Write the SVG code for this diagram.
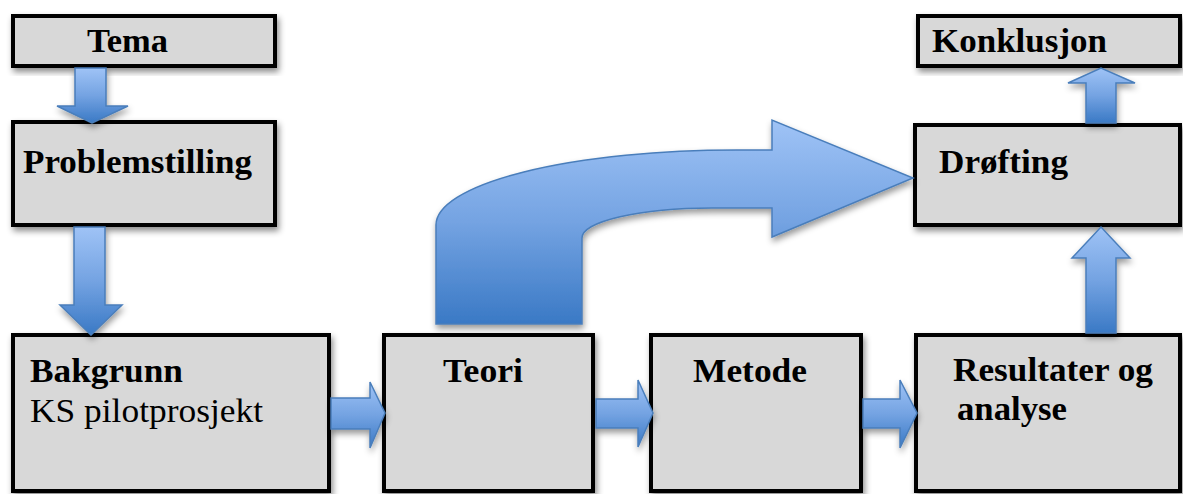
<svg xmlns="http://www.w3.org/2000/svg" width="1183" height="494" viewBox="0 0 1183 494">
  <defs>
    <style>
      .box { fill: #d8d8d8; stroke: #000; stroke-width: 4; filter: url(#boxShadow); }
      .lbl { font-family: "Liberation Serif", "DejaVu Serif", serif; font-size: 34px; fill: #000; }
      .b { font-weight: bold; }
      .r { font-weight: normal; }
      .arrow { fill: url(#blueGrad); stroke: #4a7ebb; stroke-width: 1.5; stroke-linejoin: miter; filter: url(#arrowShadow); }
    </style>
    <linearGradient id="blueGrad" x1="0" y1="0" x2="0" y2="1">
      <stop offset="0" stop-color="#9fc3f6"/>
      <stop offset="0.5" stop-color="#74a3e2"/>
      <stop offset="1" stop-color="#3a79c5"/>
    </linearGradient>
    <filter id="boxShadow" x="-10%" y="-10%" width="125%" height="130%">
      <feDropShadow dx="2" dy="4" stdDeviation="3" flood-color="#000" flood-opacity="0.45"/>
    </filter>
    <filter id="arrowShadow" x="-20%" y="-20%" width="140%" height="140%">
      <feDropShadow dx="1" dy="4" stdDeviation="3" flood-color="#000" flood-opacity="0.4"/>
    </filter>
  </defs>

  <rect width="1183" height="494" fill="#fff"/>

  <!-- process steps -->
  <g id="node-tema">
    <rect class="box" x="13" y="16" width="262" height="50"/>
    <text class="lbl b" x="87" y="52" textLength="81" lengthAdjust="spacingAndGlyphs">Tema</text>
  </g>
  <g id="node-problemstilling">
    <rect class="box" x="13" y="122" width="262" height="103"/>
    <text class="lbl b" x="23" y="173" textLength="229" lengthAdjust="spacingAndGlyphs">Problemstilling</text>
  </g>
  <g id="node-bakgrunn">
    <rect class="box" x="13" y="335" width="316" height="156"/>
    <text class="lbl b" x="30" y="382" textLength="153" lengthAdjust="spacingAndGlyphs">Bakgrunn</text>
    <text class="lbl r" x="30" y="422" textLength="233" lengthAdjust="spacingAndGlyphs">KS pilotprosjekt</text>
  </g>
  <g id="node-teori">
    <rect class="box" x="384" y="335" width="209" height="156"/>
    <text class="lbl b" x="443" y="382" textLength="80" lengthAdjust="spacingAndGlyphs">Teori</text>
  </g>
  <g id="node-metode">
    <rect class="box" x="651" y="335" width="210" height="156"/>
    <text class="lbl b" x="693" y="382" textLength="114" lengthAdjust="spacingAndGlyphs">Metode</text>
  </g>
  <g id="node-resultater">
    <rect class="box" x="916" y="335" width="264" height="156"/>
    <text class="lbl b" x="953" y="381" textLength="200" lengthAdjust="spacingAndGlyphs">Resultater og</text>
    <text class="lbl b" x="957" y="420" textLength="110" lengthAdjust="spacingAndGlyphs">analyse</text>
  </g>
  <g id="node-drofting">
    <rect class="box" x="915" y="125" width="265" height="100"/>
    <text class="lbl b" x="939" y="173" textLength="129" lengthAdjust="spacingAndGlyphs">Drøfting</text>
  </g>
  <g id="node-konklusjon">
    <rect class="box" x="918" y="16" width="262" height="50"/>
    <text class="lbl b" x="932" y="52" textLength="175" lengthAdjust="spacingAndGlyphs">Konklusjon</text>
  </g>

  <!-- block arrows between the steps -->
  <g id="connectors">
    <!-- Tema to Problemstilling -->
    <path class="arrow" d="M75,68 H106 V106 H128 L92,123 L57,106 H75 Z"/>
    <!-- Problemstilling to Bakgrunn -->
    <path class="arrow" d="M74,227 H105 V305 H122 L91,335 L60,305 H74 Z"/>
    <!-- Bakgrunn to Teori -->
    <path class="arrow" d="M331,398 H370 V382 L385,413 L370,448 V429 H331 Z"/>
    <!-- Teori to Metode -->
    <path class="arrow" d="M596,399 H638 V380 L653,413 L638,447 V428 H596 Z"/>
    <!-- Metode to Resultater og analyse -->
    <path class="arrow" d="M863,399 H900 V380 L917,413 L900,448 V428 H863 Z"/>
    <!-- Resultater og analyse to Drøfting -->
    <path class="arrow" d="M1086,333 V258 H1072 L1101,227 L1130,258 H1116 V333 Z"/>
    <!-- Drøfting to Konklusjon -->
    <path class="arrow" d="M1086,123 V83 H1068 L1101,68 L1135,83 H1116 V123 Z"/>
    <!-- bent arrow from Teori up and across to Drøfting -->
    <path class="arrow" d="M436,324 V225 A300,75 0 0 1 736,150 H772 V120 L913,178 L772,237 V208 H712 A130,30 0 0 0 582,238 V324 Z"/>
  </g>
</svg>
